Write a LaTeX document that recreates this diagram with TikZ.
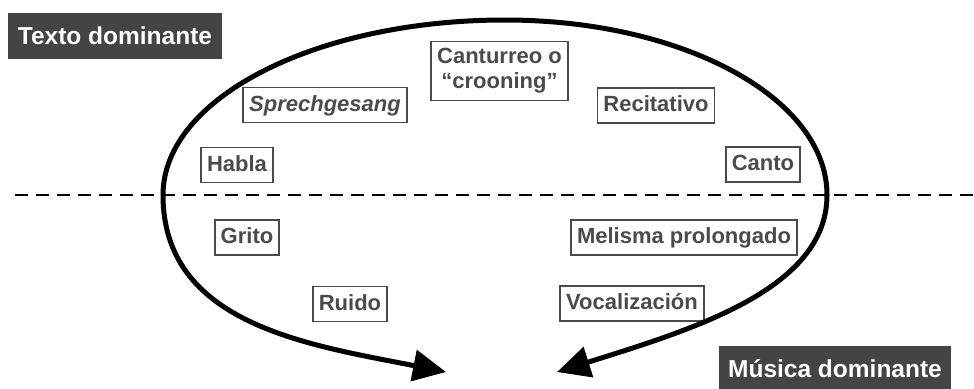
\documentclass[tikz,border=0pt]{standalone}
\usepackage{fontspec}
\setmainfont{Liberation Sans}
\usetikzlibrary{arrows.meta}

\definecolor{darkfill}{HTML}{444444}
\definecolor{labgray}{HTML}{4A4A4A}

\begin{document}
\begin{tikzpicture}[x=1pt,y=-1pt,
    lab/.style={draw=labgray,line width=1.8pt,text=labgray,
        font=\fontsize{22}{25}\selectfont\bfseries,
        inner xsep=6pt,inner ysep=7pt,text height=16.5pt,text depth=4.5pt,align=center},
    dom/.style={fill=darkfill,text=white,font=\fontsize{24.5}{28}\selectfont\bfseries,
        text height=17.5pt,text depth=0pt,minimum height=46pt,inner sep=0pt},
    curve/.style={line width=5pt,black,-{Triangle[length=33pt,width=31pt]}}]

    % limits
    \def\W{974}
    \def\H{388}
    \def\D{195}
    \useasboundingbox (0,0) rectangle (\W,\H);
    \clip (0,0) rectangle (\W,\H);

    % headings
    \node[dom,minimum width=214pt] (texto) at (115,36) {Texto dominante};
    \node[dom,minimum width=232pt,anchor=north] (musica) at (835,346) {Música dominante};

    % labels
    \node[lab,text height={},text depth={}] (canturreo) at (499.5,71) {Canturreo o\\“crooning”};
    \foreach \n/\x/\y/\t in {sprech/325/105/\textit{Sprechgesang},recit/656/105.5/Recitativo,
        habla/237/165/Habla,canto/763/164.5/Canto,grito/247/237.5/Grito,
        melisma/684/237.5/Melisma prolongado,ruido/350/304/Ruido,vocal/632/303.5/Vocalización}{
        \node[lab] (\n) at (\x,\y) {\t};
    }

    % lines
    %%% divider
    \coordinate (dL) at (15,\D);
    \coordinate (dR) at (\W,\D);
    \draw[black,line width=2.8pt,dash pattern=on 13pt off 8pt] (dL) -- (dR);
    %%% loop
    \coordinate (top) at (505,20);
    \coordinate (lft) at (163,\D);
    \coordinate (rgt) at (827,\D);
    \coordinate (tipL) at (446,372);
    \coordinate (tipR) at (557,372);
    \draw[curve] (top) .. controls (316,20) and (163,98) .. (lft)
        .. controls (163,325) and (310,345) .. (tipL);
    \draw[curve] (top) .. controls (683,20) and (827,98) .. (rgt)
        .. controls (827,290) and (690,330) .. (tipR);

\end{tikzpicture}
\end{document}
